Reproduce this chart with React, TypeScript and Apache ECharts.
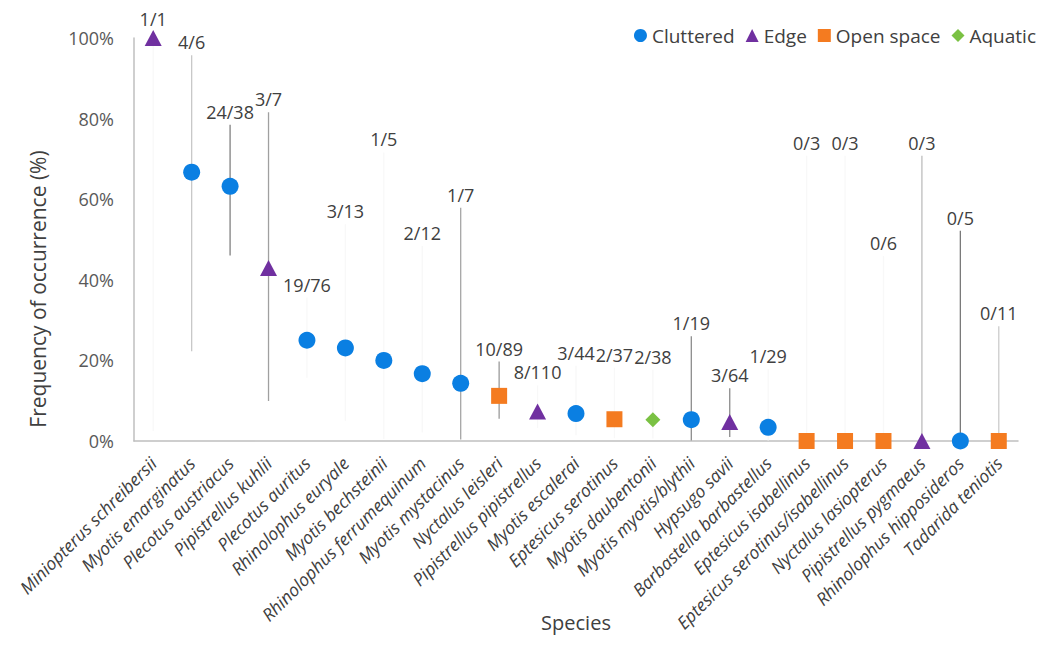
import React, { useEffect, useRef } from "react";
import * as echarts from "echarts";

const species = [
  "Miniopterus schreibersii",
  "Myotis emarginatus",
  "Plecotus austriacus",
  "Pipistrellus kuhlii",
  "Plecotus auritus",
  "Rhinolophus euryale",
  "Myotis bechsteinii",
  "Rhinolophus ferrumequinum",
  "Myotis mystacinus",
  "Nyctalus leisleri",
  "Pipistrellus pipistrellus",
  "Myotis escalerai",
  "Eptesicus serotinus",
  "Myotis daubentonii",
  "Myotis myotis/blythii",
  "Hypsugo savii",
  "Barbastella barbastellus",
  "Eptesicus isabellinus",
  "Eptesicus serotinus/isabellinus",
  "Nyctalus lasiopterus",
  "Pipistrellus pygmaeus",
  "Rhinolophus hipposideros",
  "Tadarida teniotis",
];

const guild = [
  "Edge", "Cluttered", "Cluttered", "Edge", "Cluttered", "Cluttered", "Cluttered",
  "Cluttered", "Cluttered", "Open space", "Edge", "Cluttered", "Open space", "Aquatic",
  "Cluttered", "Edge", "Cluttered", "Open space", "Open space", "Open space", "Edge",
  "Cluttered", "Open space",
];

const frequency = [100, 66.7, 63.2, 42.9, 25.0, 23.1, 20.0, 16.7, 14.3, 11.2, 7.3, 6.8, 5.4, 5.3, 5.3, 4.7, 3.4, 0, 0, 0, 0, 0, 0];
const lower = [2.5, 22.3, 46.0, 9.9, 15.7, 5.0, 0.5, 2.1, 0.4, 5.5, 3.2, 1.4, 0.7, 0.6, 0.1, 1.0, 0.1, 0, 0, 0, 0, 0, 0];
const upper = [100, 95.7, 78.5, 81.6, 35.6, 53.8, 71.6, 48.4, 57.9, 19.7, 13.8, 18.7, 18.2, 17.7, 26.0, 13.1, 17.8, 70.8, 70.8, 45.9, 70.8, 52.2, 28.5];
const counts = ["1/1", "4/6", "24/38", "3/7", "19/76", "3/13", "1/5", "2/12", "1/7", "10/89", "8/110", "3/44", "2/37", "2/38", "1/19", "3/64", "1/29", "0/3", "0/3", "0/6", "0/3", "0/5", "0/11"];

const yTicks = [0, 20, 40, 60, 80, 100];
const guilds = ["Cluttered", "Edge", "Open space", "Aquatic"];
const yTitle = "Frequency of occurrence (%)";

// styles (kept apart from data)
const guildColors: Record<string, string> = {
  Cluttered: "#0A7FE2",
  Edge: "#7030A0",
  "Open space": "#F47B20",
  Aquatic: "#7AC143",
};
const guildSymbols: Record<string, string> = {
  Cluttered: "circle",
  Edge: "triangle",
  "Open space": "rect",
  Aquatic: "diamond",
};
const guildSizes: Record<string, number | number[]> = {
  Cluttered: 17,
  Edge: [17, 16],
  "Open space": 16,
  Aquatic: 15,
};
const F = "#f8f8f8";
const barColors = [
  F, "#c8c8c8", "#808080", "#a0a0a0", F, F, F, F, "#a6a6a6", "#9a9a9a", F, F, F, F,
  "#8c8c8c", "#8c8c8c", F, F, F, F, "#bdbdbd", "#7a7a7a", "#cccccc",
];

const FONT = '"Open Sans", "Noto Sans", sans-serif';

export default function App() {
  const ref = useRef<HTMLDivElement>(null);
  useEffect(() => {
    if (!ref.current) return;
    const chart = echarts.init(ref.current, undefined, { renderer: "svg" });
    const errData = species.map((_, i) => [i, lower[i], upper[i], frequency[i]]);
    const scatterSeries = guilds.map((g) => ({
      name: g,
      type: "scatter",
      symbol: guildSymbols[g],
      symbolSize: guildSizes[g],
      itemStyle: { color: guildColors[g], opacity: 1 },
      z: 3,
      data: species
        .map((_, i) => (guild[i] === g ? [i, frequency[i]] : null))
        .filter((d) => d !== null),
    }));
    chart.setOption({
      animation: false,
      textStyle: { fontFamily: FONT },
      legend: {
        right: 3,
        top: 21,
        itemWidth: 13,
        itemHeight: 13,
        itemGap: 11,
        textStyle: { fontSize: 19, color: "#404040", fontFamily: FONT },
        data: guilds.map((g) => ({ name: g, icon: guildSymbols[g] })),
      },
      graphic: [
        {
          type: "text",
          x: 38,
          y: 289,
          rotation: Math.PI / 2,
          silent: true,
          style: {
            text: yTitle,
            align: "center",
            verticalAlign: "middle",
            fontSize: 21,
            fontFamily: FONT,
            fill: "#404040",
          },
        },
      ],
      grid: {
        left: 134,
        right: 26,
        top: 38,
        bottom: 214,
        containLabel: false,
        outerBoundsMode: "none",
      },
      xAxis: {
        type: "category",
        data: species,
        boundaryGap: true,
        name: "Species",
        nameLocation: "middle",
        nameGap: 171,
        nameMoveOverlap: false,
        nameTextStyle: { fontSize: 20, color: "#404040", fontFamily: FONT },
        axisLine: { show: true, lineStyle: { color: "#bfbfbf", width: 1.5 } },
        axisTick: { show: false },
        splitLine: { show: false },
        axisLabel: {
          rotate: 45,
          interval: 0,
          fontSize: 17.5,
          fontStyle: "italic",
          color: "#404040",
          fontFamily: FONT,
          margin: 19,
        },
      },
      yAxis: {
        type: "value",
        min: 0,
        max: 100,
        interval: 20,
        axisLine: { show: true, lineStyle: { color: "#bfbfbf", width: 1.5 } },
        axisTick: { show: false },
        splitLine: { show: false },
        axisLabel: {
          formatter: (v: number) => (yTicks.includes(v) ? v + "%" : ""),
          fontSize: 18,
          color: "#595959",
          margin: 20,
          fontFamily: FONT,
        },
      },
      series: [
        {
          type: "custom",
          name: "errors",
          z: 2,
          silent: true,
          encode: { x: 0, y: [1, 2] },
          data: errData,
          renderItem: (params: any, api: any) => {
            const i = api.value(0);
            const lo = api.coord([i, api.value(1)]);
            const hi = api.coord([i, api.value(2)]);
            const v = api.coord([i, api.value(3)]);
            return {
              type: "group",
              children: [
                {
                  type: "line",
                  shape: { x1: lo[0], y1: lo[1], x2: hi[0], y2: hi[1] },
                  style: { stroke: barColors[params.dataIndex], lineWidth: 1.3 },
                },
                {
                  type: "text",
                  z2: 10,
                  style: {
                    text: counts[params.dataIndex],
                    x: hi[0],
                    y: Math.min(hi[1] - 4, v[1] - 10),
                    align: "center",
                    verticalAlign: "bottom",
                    fontSize: 18,
                    fontFamily: FONT,
                    fill: "#404040",
                  },
                },
              ],
            };
          },
        },
        ...scatterSeries,
      ],
    });
    return () => chart.dispose();
  }, []);
  return (
    <div
      ref={ref}
      style={{ position: "fixed", left: 0, top: 0, width: 1044, height: 655, background: "#fff" }}
    />
  );
}
